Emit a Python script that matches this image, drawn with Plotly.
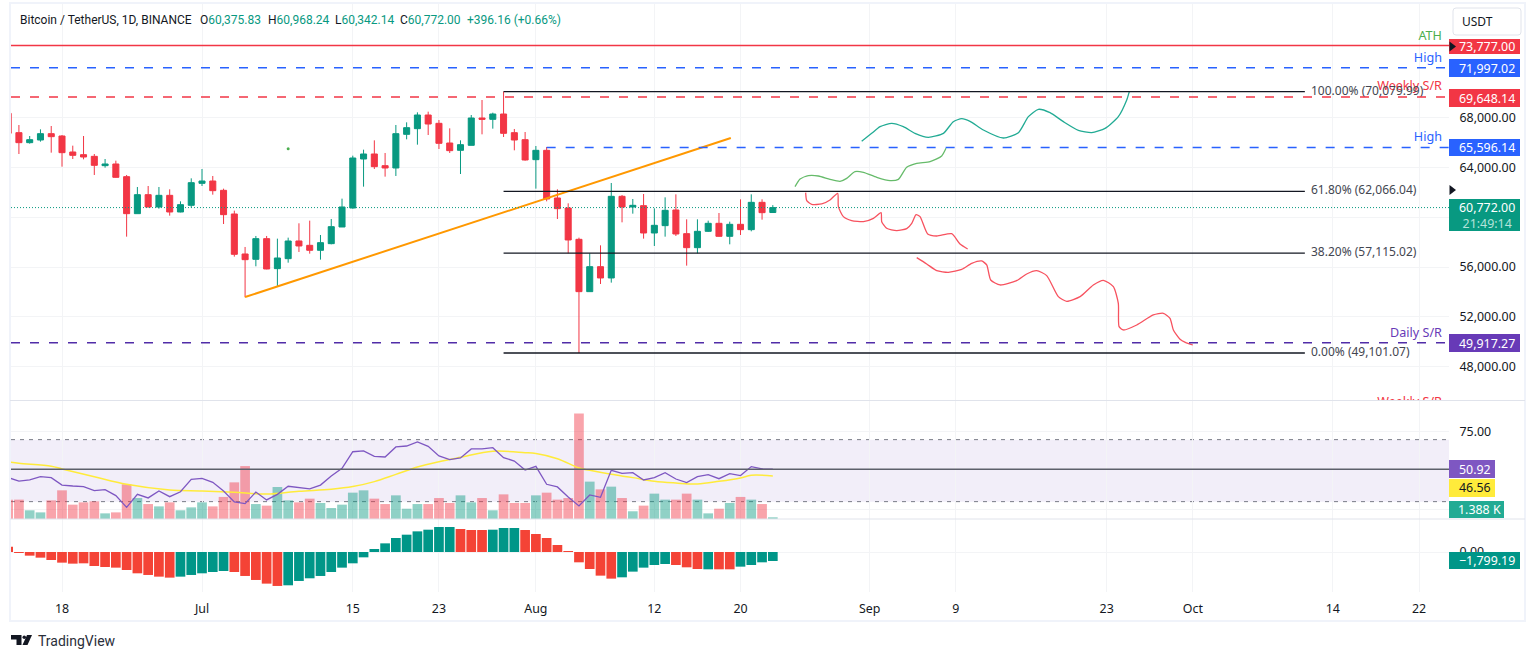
import pandas as pd
import plotly.graph_objects as go

# BTCUSDT daily candles
dates = pd.date_range("2024-06-13", periods=72, freq="D")
opens = [68336, 66785, 65983, 66197, 66705, 66518, 65234, 65020, 64886, 64137, 64271, 63254, 60285, 61810, 60820, 61756, 60419, 60954,
         62719, 62906, 62157, 60258, 57048, 56620, 58279, 55871, 56673, 58092, 57744, 57343, 57878, 59215, 60740, 64672, 65074, 64137, 63950, 66652, 67107, 68203, 67535, 65956, 65368, 65769, 67962, 67855, 68283, 66786, 66224,
         64619, 65368, 61542, 60739, 58225, 54025, 56031, 55122, 61676, 60820, 60927, 58733, 59322, 60579, 58680, 57556, 58867, 59509, 58466, 59429, 59001, 61194, 60375.83]
highs = [68336, 67400, 66518, 67052, 67320, 66598, 65742, 66518, 65073, 64672, 64538, 63388, 62425, 62505, 62425, 62238, 61275, 63120,
         63869, 63308, 62291, 60526, 57610, 58493, 58493, 58279, 58359, 59510, 59724, 58573, 59857, 61489, 64940, 65421, 66170, 65154, 67401, 67615, 68417, 68471, 67802, 67133, 66170, 68203, 69407, 68390, 70079.99, 67080, 66839,
         65716, 65635, 62238, 61114, 58359, 57101, 57743, 62746, 61783, 61462, 61863, 60713, 61595, 61836, 59830, 59830, 59723, 60338, 59643, 61435, 61836, 61435, 60968.24]
lows = [66731, 65073, 65902, 66063, 65180, 64057, 64672, 64645, 63388, 63976, 63174, 58439, 60285, 60793, 60686, 60124, 60392, 60766,
        62505, 61810, 59455, 56834, 53571, 56058, 55817, 54427, 56352, 57209, 57075, 56594, 57824, 59215, 60687, 62452, 63870, 63255, 63308, 66251, 65823, 66598, 65475, 65154, 63468, 65769, 66652, 67107, 66438, 65368, 64539,
        62292, 61275, 59857, 57101, 49101.07, 54025, 54640, 54748, 59589, 60285, 58279, 57690, 58439, 58493, 56112, 57101, 58814, 58439, 57824, 58573, 58867, 59803, 60342.14]
closes = [66731, 65983, 66223, 66705, 66464, 65180, 64966, 64832, 64164, 64271, 63200, 60285, 61810, 60820, 61756, 60419, 61007, 62773,
          62906, 62130, 60205, 57021, 56593, 58279, 55844, 56727, 58091, 57691, 57343, 57958, 59242, 60820, 64752, 65074, 64057, 63950, 66705, 67187, 68203, 67481, 65930, 65341, 65823, 67962, 67855, 68283, 66732, 66197, 64592,
          65368, 61462, 60686, 58172, 54025, 56031, 55122, 61676, 60820, 60954, 58733, 59349, 60552, 58653, 57556, 58867, 59509, 58466, 59429, 59001, 61194, 60365, 60772.00]

# volume in thousands of BTC
volumes = [15.8, 15.8, 7.1, 5.4, 15.2, 23.4, 11.7, 13.6, 14.4, 4.6, 5.4, 28.3, 17.1, 12.2, 10.3, 13.6, 7.1, 9.5,
           13.6, 10.3, 18.0, 29.9, 43.2, 12.2, 10.9, 26.1, 15.2, 13.6, 16.6, 13.1, 9.0, 11.7, 21.5, 23.4, 16.6, 12.2, 19.3, 8.4, 12.2, 12.2, 17.1, 13.1, 19.3, 13.6, 17.1, 7.1, 20.1, 13.1, 13.1,
           19.3, 21.5, 15.8, 17.1, 86.0, 30.5, 24.2, 26.4, 17.1, 6.3, 10.9, 20.7, 15.8, 15.8, 20.7, 15.8, 4.6, 8.4, 13.1, 18.0, 15.8, 12.2, 1.388]

rsi = [45.5, 43.3, 44.0, 46.1, 45.5, 40.7, 40.1, 39.7, 37.1, 37.7, 33.9, 26.3, 34.7, 32.4, 36.9, 33.2, 36.4, 44.4,
       45.0, 42.5, 36.9, 29.8, 28.7, 36.2, 31.1, 34.7, 39.9, 39.0, 38.2, 40.7, 46.6, 51.5, 62.2, 62.7, 59.2, 58.8, 65.3, 65.9, 68.5, 65.7, 59.5, 57.1, 58.2, 64.0, 64.0, 64.8, 58.4, 56.2, 50.4,
       52.8, 41.2, 39.5, 33.0, 27.2, 34.3, 32.8, 50.2, 48.3, 48.7, 44.0, 45.5, 48.7, 44.6, 42.3, 46.1, 47.4, 44.8, 48.1, 46.8, 52.6, 51.1, 50.92]

# RSI moving average, read at fewer dates since it is smooth
rsi_ma_dates = ["2024-06-13", "2024-06-14", "2024-06-17", "2024-06-18", "2024-06-21", "2024-06-24", "2024-06-28", "2024-07-01", "2024-07-04", "2024-07-07",
                "2024-07-10", "2024-07-13", "2024-07-15", "2024-07-17", "2024-07-19", "2024-07-21", "2024-07-23", "2024-07-25", "2024-07-28", "2024-07-31",
                "2024-08-01", "2024-08-03", "2024-08-05", "2024-08-06", "2024-08-08", "2024-08-10", "2024-08-12", "2024-08-14", "2024-08-16", "2024-08-18",
                "2024-08-20", "2024-08-21", "2024-08-23"]
rsi_ma = [55.6, 54.7, 52.8, 51.1, 46.1, 41.2, 37.5, 36.9, 36.0, 34.9,
          36.7, 38.0, 39.7, 42.9, 47.6, 52.4, 55.8, 58.6, 62.5, 61.6,
          61.0, 57.7, 51.7, 50.2, 47.6, 45.5, 43.1, 42.0, 41.4, 43.1,
          45.3, 47.0, 46.56]

macd_hist = [1066, -180, -733, -1132, -1600, -2130, -2330, -2264, -2797, -2997, -3130, -3596, -4262, -4595, -4928, -5128, -4928, -4595,
             -4262, -3996, -3796, -3996, -4795, -5594, -6327, -6793, -6660, -5794, -5261, -4795, -3996, -3130, -2264, -1066, 600, 1730, 2800, 3463, 4130, 4462, 4995, 4995, 4595, 4396, 4396, 4462, 4795, 4795, 4396,
             3596, 2797, 1399, 200, -2064, -3397, -4729, -5328, -5062, -3929, -3130, -2597, -2398, -2597, -3064, -3397, -3463, -3463, -3463, -2930, -2597, -2064, -1799.19]
macd_state = (["r"] * 16 + ["g"] * 2  # Jun
              + ["g"] * 3 + ["r"] * 5 + ["g"] * 16 + ["r"] * 3 + ["g"] * 3 + ["r"]  # Jul
              + ["r"] * 8 + ["g"] * 5 + ["r"] * 3 + ["g"] + ["r"] * 2 + ["g"] * 4)  # Aug

# horizontal levels
ath = 73777.00
high_1 = 71997.02
weekly_sr = 69648.14
high_2 = 65596.14
daily_sr = 49917.27
last_price = 60772.00
fib_levels = [70079.99, 62066.04, 57115.02, 49101.07]
fib_names = ["100.00% (70,079.99)", "61.80% (62,066.04)", "38.20% (57,115.02)", "0.00% (49,101.07)"]

# drawings, as days after 18 Jun and price
trend_days = [17.0, 62.1]
trend_prices = [53596, 66357]
teal_days = [74.25, 75.18, 75.96, 77.04, 78.12, 79.2, 80.44, 81.84, 82.76, 83.54, 84.31, 85.55, 87.41, 88.8, 89.73, 90.66, 91.74, 92.98, 94.37, 95.61, 96.85, 98.08, 98.86, 99.1]
teal_prices = [66090, 66732, 67267, 67535, 67267, 66732, 66411, 66732, 67668, 67909, 67695, 67000, 66357, 66786, 68070, 68658, 68390, 67668, 66973, 66786, 67134, 68070, 69407, 70076]
green_days = [68.06, 68.53, 69.3, 70.23, 71.31, 72.24, 72.86, 73.63, 74.41, 75.65, 76.88, 77.66, 78.43, 79.36, 80.6, 81.68, 82.08]
green_prices = [62452, 63067, 63335, 63308, 63040, 62880, 63120, 63656, 63602, 63201, 62934, 63040, 64004, 64325, 64458, 64913, 65528]
red1_days = [69.05, 69.15, 69.61, 70.54, 71.31, 72.02, 72.09, 72.55, 73.32, 74.41, 75.34, 76.05, 76.11, 76.57, 77.5, 78.43, 78.9, 79.3, 79.67, 80.38, 81.22, 82.61, 83.38, 84.09]
red1_prices = [61970, 61329, 61034, 61061, 61382, 61917, 60847, 60045, 59724, 59643, 59911, 60366, 59643, 59108, 58921, 59082, 59510, 60205, 60045, 58654, 58493, 58680, 57851, 57450]
red2_days = [79.36, 80.29, 81.22, 82.3, 83.54, 84.47, 85.39, 85.86, 86.23, 87.1, 88.64, 89.57, 90.5, 91.43, 92.51, 93.29, 94.53, 95.76, 96.69, 97.62, 98.08, 98.15, 98.55, 99.79, 101.33, 102.26, 102.88, 103.19, 103.81, 104.3, 105.0]
red2_prices = [56754, 56246, 55711, 55577, 55818, 56300, 56487, 56166, 54962, 54561, 54909, 55444, 55711, 55310, 53624, 53250, 53624, 54561, 54935, 54427, 53090, 51217, 50950, 51351, 52153, 52287, 51886, 50950, 50201, 49950, 49743]

# axis ticks
tick_dates = ["2024-06-18", "2024-07-01", "2024-07-15", "2024-07-23", "2024-08-01", "2024-08-12", "2024-08-20", "2024-09-01", "2024-09-09", "2024-09-23", "2024-10-01", "2024-10-14", "2024-10-22"]
tick_labels = ["18", "Jul", "15", "23", "Aug", "12", "20", "Sep", "9", "23", "Oct", "14", "22"]
price_ticks = [48000, 52000, 56000, 60000, 64000, 68000]

assert all(len(s) == 72 for s in [opens, highs, lows, closes, volumes, rsi, macd_hist, macd_state])

W, H = 1536, 659
GREEN = "#089981"
RED = "#F23645"
BLUE = "#2962FF"
PURPLE = "#673AB7"
TEXT = "#131722"
GRID = "#F3F4F6"
FONT = "Noto Sans"
base_day = pd.Timestamp("2024-06-18")


def px(x):
    return x / W


def py(y):
    return 1 - y / H


def on_days(days):
    return [base_day + pd.Timedelta(days=d) for d in days]


def text_at(fig, x, y, text, color=TEXT, size=12.4, anchor="left", family=FONT):
    fig.add_annotation(xref="paper", yref="paper", x=px(x), y=py(y), text=text, showarrow=False,
                       xanchor=anchor, yanchor="middle", font=dict(family=family, size=size, color=color))


def tag(fig, y0, y1, text, color, x1=1520, font_color="white"):
    # price tag on the right axis
    fig.add_shape(type="rect", xref="paper", yref="paper", x0=px(1449), x1=px(x1), y0=py(y0), y1=py(y1),
                  fillcolor=color, line=dict(width=0), layer="above")
    text_at(fig, 1487 if x1 == 1520 else (1449 + x1) / 2 + 3, (y0 + y1) / 2, text, font_color, 12.4, "center")


fig = go.Figure()

x_left = base_day + pd.Timedelta(days=(11 - 62) / 10.77)
x_right = base_day + pd.Timedelta(days=(1449 - 62) / 10.77)

fig.add_trace(go.Candlestick(x=dates, open=opens, high=highs, low=lows, close=closes, whiskerwidth=0,
                             increasing=dict(line=dict(color=GREEN, width=1), fillcolor=GREEN),
                             decreasing=dict(line=dict(color=RED, width=1), fillcolor=RED),
                             xaxis="x", yaxis="y", showlegend=False))

# trend line and the sketched paths
fig.add_trace(go.Scatter(x=on_days(trend_days), y=trend_prices, mode="lines", line=dict(color="#FF9800", width=2), showlegend=False))
for d, p, c in [(teal_days, teal_prices, "#22AB94"), (green_days, green_prices, "#66BB6A"), (red1_days, red1_prices, "#F7525F"), (red2_days, red2_prices, "#F7525F")]:
    fig.add_trace(go.Scatter(x=on_days(d), y=p, mode="lines", line=dict(color=c, width=1.3, shape="spline", smoothing=0.6), showlegend=False))
fig.add_trace(go.Scatter(x=["2024-07-09"], y=[65500], mode="markers", marker=dict(color="#4CAF50", size=3), showlegend=False))

# fib lines
fib_start = pd.Timestamp("2024-07-29")
fib_end = base_day + pd.Timedelta(days=115.4)
for level in fib_levels:
    fig.add_trace(go.Scatter(x=[fib_start, fib_end], y=[level, level], mode="lines", line=dict(color=TEXT, width=1.3), showlegend=False))

# labels in the main pane, clipped by it
label_day = base_day + pd.Timedelta(days=128.13)
fig.add_trace(go.Scatter(x=[label_day] * 6,
                         y=[74500, 72700, 70450, 66350, 50620, 45100],
                         text=["ATH", "High", "Weekly S/R", "High", "Daily S/R", "Weekly S/R"],
                         mode="text", textposition="middle left",
                         textfont=dict(family=FONT, size=12.6, color=["#4CAF50", BLUE, RED, BLUE, PURPLE, RED]),
                         showlegend=False))
fig.add_trace(go.Scatter(x=[base_day + pd.Timedelta(days=115.97)] * 4, y=fib_levels, text=fib_names,
                         mode="text", textposition="middle right",
                         textfont=dict(family=FONT, size=12, color="#434651"), showlegend=False))

# volume bars, base of the RSI pane
vol_colors = ["rgba(8,153,129,0.45)" if c >= o else "rgba(242,54,69,0.45)" for o, c in zip(opens, closes)]
day_ms = 86400000
fig.add_trace(go.Bar(x=dates, y=volumes, marker=dict(color=vol_colors, line=dict(width=0)), width=day_ms * 0.9,
                     xaxis="x2", yaxis="y2", showlegend=False))
fig.add_trace(go.Scatter(x=rsi_ma_dates, y=rsi_ma, mode="lines", line=dict(color="#FFEB3B", width=1.5, shape="spline"),
                         xaxis="x2", yaxis="y4", showlegend=False))
fig.add_trace(go.Scatter(x=dates, y=rsi, mode="lines", line=dict(color="#7E57C2", width=1.3),
                         xaxis="x2", yaxis="y4", showlegend=False))

macd_colors = ["#009688" if s == "g" else "#F44336" for s in macd_state]
fig.add_trace(go.Bar(x=dates, y=macd_hist, marker=dict(color=macd_colors, line=dict(width=0)), width=day_ms * 0.9,
                     xaxis="x3", yaxis="y3", showlegend=False))

x_common = dict(type="date", range=[x_left, x_right], domain=[px(11), px(1449)], showgrid=True, gridcolor=GRID,
                tickvals=tick_dates, ticktext=tick_labels, zeroline=False, showline=False,
                rangeslider=dict(visible=False))
y_ticks = dict(ticks="outside", ticklen=7, tickcolor="rgba(0,0,0,0)", tickformat=",.2f", showgrid=True, gridcolor=GRID,
               zeroline=False, tickfont=dict(family=FONT, size=12.4, color=TEXT))

fig.update_layout(
    width=W, height=H, margin=dict(l=0, r=0, t=0, b=0), paper_bgcolor="white", plot_bgcolor="white",
    hovermode=False, barmode="overlay", boxgap=0.2, font=dict(family=FONT, size=12, color=TEXT),
    xaxis=dict(x_common, anchor="y", showticklabels=False),
    xaxis2=dict(x_common, anchor="y2", showticklabels=False),
    xaxis3=dict(x_common, anchor="y3", ticks="outside", ticklen=5, tickcolor="rgba(0,0,0,0)", tickfont=dict(family=FONT, size=12.4, color=TEXT)),
    yaxis=dict(y_ticks, domain=[py(400), py(4)], range=[45329, 77112], side="right", anchor="x", tickvals=price_ticks),
    yaxis2=dict(domain=[py(519), py(401)], range=[0, 96.3], side="right", anchor="x2", visible=False, showgrid=False),
    yaxis3=dict(y_ticks, domain=[py(592), py(519)], range=[-8000, 6600], side="right", anchor="x3", tickvals=[0]),
    yaxis4=dict(y_ticks, range=[18.8, 94.93], side="right", anchor="x2", overlaying="y2", tickvals=[25, 75]),
)

# RSI band
fig.add_shape(type="rect", xref="x2", yref="y4", x0=x_left, x1=x_right, y0=30, y1=70, fillcolor="rgba(126,87,194,0.1)", line=dict(width=0), layer="below")
for lvl in [70, 30]:
    fig.add_shape(type="line", xref="x2", yref="y4", x0=x_left, x1=x_right, y0=lvl, y1=lvl, line=dict(color="#787B86", width=1, dash="4px,5px"), layer="below")
fig.add_shape(type="line", xref="x2", yref="y4", x0=x_left, x1=x_right, y0=50.92, y1=50.92, line=dict(color="#5D606B", width=1.5), layer="above")

# level lines
fig.add_shape(type="line", xref="x", yref="y", x0=x_left, x1=x_right, y0=ath, y1=ath, line=dict(color=RED, width=1.5), layer="above")
fig.add_shape(type="line", xref="x", yref="y", x0=x_left, x1=x_right, y0=high_1, y1=high_1, line=dict(color=BLUE, width=1.5, dash="9px,10px"), layer="above")
fig.add_shape(type="line", xref="x", yref="y", x0=x_left, x1=x_right, y0=weekly_sr, y1=weekly_sr, line=dict(color=RED, width=1.5, dash="9px,10px"), layer="above")
fig.add_shape(type="line", xref="x", yref="y", x0="2024-08-02", x1=x_right, y0=high_2, y1=high_2, line=dict(color=BLUE, width=1.5, dash="9px,10px"), layer="above")
fig.add_shape(type="line", xref="x", yref="y", x0=x_left, x1=x_right, y0=daily_sr, y1=daily_sr, line=dict(color="#512DA8", width=1.5, dash="9px,10px"), layer="above")
fig.add_shape(type="line", xref="x", yref="y", x0=x_left, x1=x_right, y0=last_price, y1=last_price, line=dict(color=GREEN, width=1, dash="1px,2px"), layer="above")

# frame and pane separators
fig.add_shape(type="rect", xref="paper", yref="paper", x0=px(10), x1=px(1525), y0=py(621), y1=py(3), line=dict(color="#F0F3FA", width=2), layer="above")
for sep in [400.5, 519]:
    fig.add_shape(type="line", xref="paper", yref="paper", x0=px(10), x1=px(1525), y0=py(sep), y1=py(sep), line=dict(color="#E0E3EB", width=1), layer="above")

# legend line
text_at(fig, 18, 20.5, "Bitcoin / TetherUS, 1D, BINANCE", TEXT, 12, family="Roboto")
for x, head, value in [(198, "O", "60,375.83"), (266, "H", "60,968.24"), (333, "L", "60,342.14"), (398, "C", "60,772.00")]:
    text_at(fig, x, 20.5, f'{head}<span style="color:{GREEN}">{value}</span>', TEXT, 12, family="Roboto")
text_at(fig, 465, 20.5, "+396.16 (+0.66%)", GREEN, 12, family="Roboto")

# USDT button
fig.add_shape(type="path", xref="paper", yref="paper",
              path=f"M {px(1456)} {py(8)} L {px(1518)} {py(8)} Q {px(1521)} {py(8)} {px(1521)} {py(11)} L {px(1521)} {py(32)} Q {px(1521)} {py(35)} {px(1518)} {py(35)} "
                   f"L {px(1456)} {py(35)} Q {px(1453)} {py(35)} {px(1453)} {py(32)} L {px(1453)} {py(11)} Q {px(1453)} {py(8)} {px(1456)} {py(8)} Z",
              line=dict(color="#E0E3EB", width=1), fillcolor="white", layer="above")
text_at(fig, 1477, 21.5, "USDT", TEXT, 12, "center")

# tags on the price axis
tag(fig, 39, 54, "73,777.00", RED)
tag(fig, 59, 77, "71,997.02", BLUE)
tag(fig, 89, 107, "69,648.14", RED)
tag(fig, 139, 156, "65,596.14", BLUE)
tag(fig, 199, 231, '60,772.00<br><span style="color:#B5E3DA">21:49:14</span>', GREEN)
tag(fig, 334, 352, "49,917.27", PURPLE)
tag(fig, 460, 478, "50.92", "#7E57C2", x1=1495)
tag(fig, 479, 497, "46.56", "#FFEB3B", x1=1495, font_color=TEXT)
tag(fig, 501, 518, "1.388 K", "#22AB94", x1=1504)
tag(fig, 552, 569, "\u22121,799.19", "#009688")

# small arrows on the axis edge
for y in [46.5, 190]:
    fig.add_shape(type="path", xref="paper", yref="paper",
                  path=f"M {px(1449.5)} {py(y - 5)} L {px(1456)} {py(y)} L {px(1449.5)} {py(y + 5)} Z",
                  fillcolor="#131722", line=dict(width=0), layer="above")

# logo
text_at(fig, 35.5, 641, "TradingView", "#2A2E39", 14, family="Roboto")
fig.add_shape(type="path", xref="paper", yref="paper",
              path=f"M {px(11)} {py(635)} L {px(21.5)} {py(635)} L {px(21.5)} {py(645)} L {px(16.5)} {py(645)} L {px(16.5)} {py(639.5)} L {px(11)} {py(639.5)} Z",
              fillcolor="#131722", line=dict(width=0), layer="above")
fig.add_shape(type="circle", xref="paper", yref="paper", x0=px(22.5), x1=px(26), y0=py(639), y1=py(635.5),
              fillcolor="#131722", line=dict(width=0), layer="above")
fig.add_shape(type="path", xref="paper", yref="paper",
              path=f"M {px(27)} {py(635)} L {px(32)} {py(635)} L {px(27.5)} {py(645)} L {px(22.5)} {py(645)} Z",
              fillcolor="#131722", line=dict(width=0), layer="above")

fig.write_html("out.html", config=dict(displayModeBar=False), post_script="document.body.style.margin='0';")
